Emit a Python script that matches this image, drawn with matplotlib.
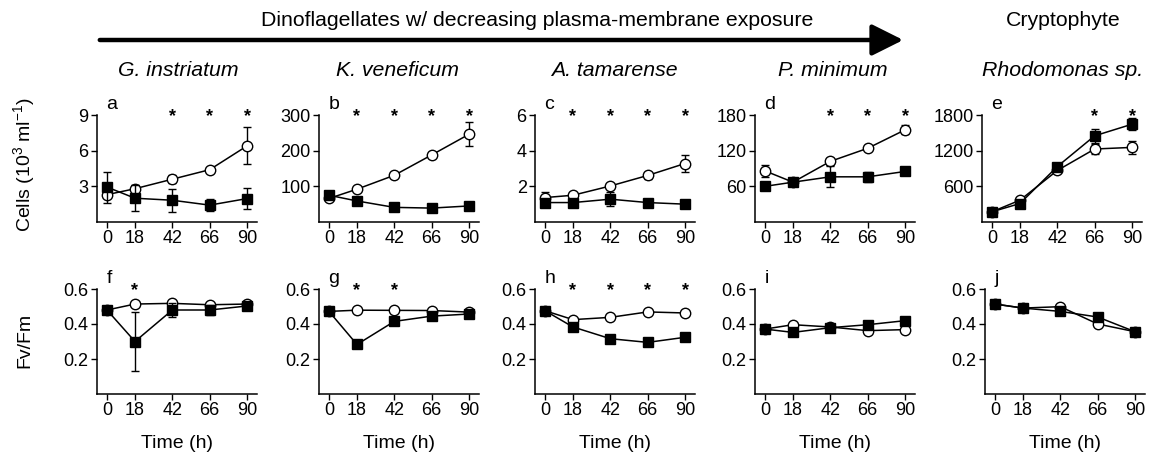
import matplotlib

matplotlib.use("Agg")
import matplotlib.pyplot as plt

plt.rcParams["font.family"] = ["Liberation Sans", "DejaVu Sans"]
plt.rcParams["mathtext.fontset"] = "custom"
plt.rcParams["mathtext.rm"] = "Liberation Sans"

TIME_H = [0, 18, 42, 66, 90]
SPECIES = ["G. instriatum", "K. veneficum", "A. tamarense", "P. minimum", "Rhodomonas sp."]
TOP_ROW_LETTERS = ["a", "b", "c", "d", "e"]
BOTTOM_ROW_LETTERS = ["f", "g", "h", "i", "j"]

# cell abundance (10^3 ml^-1); open circles vs filled squares
CELLS_OPEN = [
    [2.3, 2.8, 3.6, 4.4, 6.4],
    [66, 92, 131, 188, 246],
    [1.37, 1.5, 2.02, 2.61, 3.28],
    [86, 67, 102, 124, 155],
    [172, 367, 867, 1228, 1255],
]
CELLS_OPEN_ERR = [
    [0.3, 0.3, 0.35, 0.15, 1.55],
    [4, 4, 5, 9, 34],
    [0.3, 0.1, 0.1, 0.2, 0.47],
    [10, 3, 6, 3, 7.5],
    [20, 30, 30, 90, 115],
]
CELLS_FILLED = [
    [2.94, 2.0, 1.83, 1.42, 1.97],
    [75, 59, 41, 39, 45],
    [1.09, 1.09, 1.28, 1.09, 1.0],
    [60, 67, 76, 76, 85],
    [172, 311, 933, 1450, 1645],
]
CELLS_FILLED_ERR = [
    [1.3, 1.1, 0.95, 0.5, 0.9],
    [5, 4, 6, 4, 5],
    [0.1, 0.1, 0.4, 0.1, 0.1],
    [6, 4, 17.5, 8, 5],
    [20, 40, 40, 120, 105],
]
CELLS_YMAX = [9, 300, 6, 180, 1800]
CELLS_YTICKS = [[3, 6, 9], [100, 200, 300], [2, 4, 6], [60, 120, 180], [600, 1200, 1800]]
CELLS_SIG = [[42, 66, 90], [18, 42, 66, 90], [18, 42, 66, 90], [42, 66, 90], [66, 90]]

# photosynthetic efficiency Fv/Fm
FV_OPEN = [
    [0.48, 0.514, 0.518, 0.51, 0.514],
    [0.472, 0.479, 0.478, 0.477, 0.468],
    [0.476, 0.425, 0.438, 0.469, 0.463],
    [0.371, 0.396, 0.383, 0.362, 0.368],
    [0.514, 0.491, 0.499, 0.40, 0.356],
]
FV_OPEN_ERR = [
    [0.01, 0.01, 0.01, 0.01, 0.01],
    [0.01, 0.01, 0.01, 0.01, 0.01],
    [0.01, 0.01, 0.01, 0.01, 0.01],
    [0.01, 0.01, 0.01, 0.01, 0.01],
    [0.01, 0.01, 0.01, 0.01, 0.01],
]
FV_FILLED = [
    [0.48, 0.30, 0.48, 0.48, 0.503],
    [0.472, 0.283, 0.415, 0.445, 0.457],
    [0.476, 0.383, 0.316, 0.295, 0.324],
    [0.371, 0.352, 0.379, 0.396, 0.419],
    [0.514, 0.491, 0.472, 0.44, 0.356],
]
FV_FILLED_ERR = [
    [0.015, 0.17, 0.04, 0.03, 0.01],
    [0.01, 0.02, 0.015, 0.01, 0.01],
    [0.01, 0.01, 0.01, 0.01, 0.01],
    [0.01, 0.01, 0.01, 0.01, 0.01],
    [0.01, 0.01, 0.01, 0.01, 0.01],
]
FV_SIG = [[18], [18, 42], [18, 42, 66, 90], [], []]

W, H = 1149, 457
TICK_FS = 13
LABEL_FS = 14
HEAD_FS = 15.3
TOP_LEFTS = [97, 319, 535, 755, 982]
BOTTOM_LEFTS = [97, 319, 535, 755, 985]
AX_W = 160


def px_box(left, top, bottom):
    return [left / W, 1 - bottom / H, AX_W / W, (bottom - top) / H]


def draw_panel(ax, y_open, e_open, y_filled, e_filled, ymax, yticks, sig, letter, xlabel):
    ax.errorbar(TIME_H, y_open, yerr=e_open, color="black", lw=1.1, elinewidth=1.0,
                capsize=3, marker="o", ms=7.5, mfc="white", mec="black", mew=1.0, zorder=3)
    ax.errorbar(TIME_H, y_filled, yerr=e_filled, color="black", lw=1.1, elinewidth=1.0,
                capsize=3, marker="s", ms=7.5, mfc="black", mec="black", zorder=4)
    ax.set_xlim(-6.4, 96.4)
    ax.set_ylim(0, ymax)
    ax.set_xticks(TIME_H)
    ax.set_yticks(yticks)
    ax.set_yticklabels([f"{t:g}" for t in yticks])
    ax.spines["top"].set_visible(False)
    ax.spines["right"].set_visible(False)
    ax.spines["left"].set_bounds(0, ymax)
    for side in ("left", "bottom"):
        ax.spines[side].set_linewidth(1.1)
    ax.tick_params(direction="out", length=4, width=1.0, pad=2, labelsize=TICK_FS)
    for t in sig:
        ax.text(t, ymax * 0.985, "*", ha="center", va="center", fontsize=TICK_FS,
                fontweight="bold")
    ax.text(0.06, 1.02, letter, transform=ax.transAxes, ha="left", va="bottom",
            fontsize=LABEL_FS)
    if xlabel:
        ax.set_xlabel("Time (h)", fontsize=LABEL_FS, labelpad=11)


fig = plt.figure(figsize=(W / 100, H / 100), dpi=100)

for i in range(5):
    ax = fig.add_axes(px_box(TOP_LEFTS[i], 115, 222))
    draw_panel(ax, CELLS_OPEN[i], CELLS_OPEN_ERR[i], CELLS_FILLED[i], CELLS_FILLED_ERR[i],
               CELLS_YMAX[i], CELLS_YTICKS[i], CELLS_SIG[i], TOP_ROW_LETTERS[i], False)
    ax = fig.add_axes(px_box(BOTTOM_LEFTS[i], 289, 394))
    draw_panel(ax, FV_OPEN[i], FV_OPEN_ERR[i], FV_FILLED[i], FV_FILLED_ERR[i],
               0.6, [0.2, 0.4, 0.6], FV_SIG[i], BOTTOM_ROW_LETTERS[i], True)

# species names above each column
centers = [178, 398, 614, 833, 1063]
for name, cx in zip(SPECIES, centers):
    fig.text(cx / W, 1 - 70 / H, name, ha="center", va="center", fontsize=HEAD_FS,
             style="italic")

fig.text(537 / W, 1 - 20 / H, "Dinoflagellates w/ decreasing plasma-membrane exposure",
         ha="center", va="center", fontsize=HEAD_FS)
fig.text(1063 / W, 1 - 20 / H, "Cryptophyte", ha="center", va="center", fontsize=HEAD_FS)
fig.add_artist(matplotlib.patches.FancyArrowPatch(
    (97 / W, 1 - 40 / H), (906 / W, 1 - 40 / H), transform=fig.transFigure,
    arrowstyle="-|>,head_length=1.2,head_width=0.6", mutation_scale=16,
    lw=3.2, color="black"))

fig.text(25 / W, 1 - 165 / H, "Cells (10$^{\\mathrm{3}}$ ml$^{\\mathrm{-1}}$)", rotation=90,
         ha="center", va="center", fontsize=LABEL_FS)
fig.text(25 / W, 1 - 340 / H, "Fv/Fm", rotation=90, ha="center", va="center",
         fontsize=LABEL_FS)

fig.savefig("out.png", dpi=100)
